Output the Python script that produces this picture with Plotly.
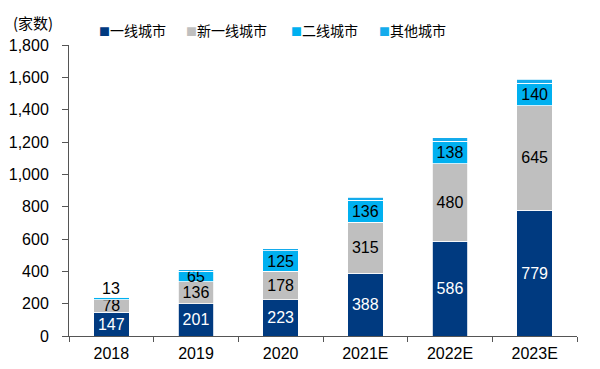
import plotly.graph_objects as go

years = ["2018", "2019", "2020", "2021E", "2022E", "2023E"]
tier1 = [147, 201, 223, 388, 586, 779]
new_tier1 = [78, 136, 178, 315, 480, 645]
tier2 = [13, 65, 125, 136, 138, 140]
others = [3, 8, 14, 18, 22, 24]

series_names = ["一线城市", "新一线城市", "二线城市", "其他城市"]
colors = ["#003A80", "#BFBFBF", "#00B0F0", "#14ABEC"]
text_colors = ["white", "black", "black", "black"]
legend_x_px = [89, 176, 281, 369]  # legend entry positions (figure px)

W, H = 592, 361
ML, MR, MT, MB = 61, 23, 37, 33
PW, PH = W - ML - MR, H - MT - MB

fig = go.Figure()
all_vals = [tier1, new_tier1, tier2, others]
for i, (name, vals) in enumerate(zip(series_names, all_vals)):
    if i < 2:
        txt = [str(v) for v in vals]
    elif i == 2:
        txt = ["" if v < 40 else str(v) for v in vals]
    else:
        txt = ["" for v in vals]
    fig.add_trace(go.Bar(
        x=years, y=vals, name=name,
        marker=dict(color=colors[i], line=dict(color="white", width=0.8)),
        text=txt, textposition="inside", insidetextanchor="middle",
        textangle=0, constraintext="none",
        textfont=dict(family="Liberation Sans, Arial", size=16, color=text_colors[i]),
        hoverinfo="skip", showlegend=False,
    ))

# small label above the bar where the segment is too thin
for idx, (a, b, c, d) in enumerate(zip(tier1, new_tier1, tier2, others)):
    if c < 40:
        fig.add_annotation(x=idx, y=a + b + c + d, text=str(c), showarrow=False,
                           yanchor="bottom", yshift=-2,
                           font=dict(family="Liberation Sans, Arial", size=16, color="black"))

# legend entries
for name, col, px in zip(series_names, colors, legend_x_px):
    fig.add_annotation(
        x=(px - ML) / PW, y=1 + (MT - 22) / PH, xref="paper", yref="paper",
        xanchor="left", yanchor="middle", showarrow=False,
        text=f"<span style='color:{col};font-size:11px'>■</span>{name}",
        font=dict(family="Noto Sans CJK SC", size=14, color="black"))

fig.add_annotation(x=0, y=1, xref="paper", yref="paper", xanchor="left", yanchor="top",
                   text="(家数)", showarrow=False, xshift=-58, yshift=35,
                   font=dict(family="Noto Sans CJK SC", size=15, color="black"))

fig.update_layout(
    width=W, height=H,
    margin=dict(l=ML, r=MR, t=MT, b=MB),
    barmode="stack", bargap=0.58,
    plot_bgcolor="white", paper_bgcolor="white",
    showlegend=False,
    font=dict(family="Liberation Sans, Arial", color="black"),
)
fig.update_yaxes(range=[0, 1800], dtick=200, tickformat=",", showgrid=False,
                 showline=True, linecolor="#555555", linewidth=1, automargin=False,
                 ticks="outside", ticklen=6, tickcolor="#555555", ticklabelstandoff=10,
                 tickfont=dict(size=16, color="black"), zeroline=False)
fig.update_xaxes(type="category", range=[-0.5, len(years) - 0.5], automargin=False,
                 showline=True, linecolor="#555555", linewidth=1,
                 ticks="outside", ticklen=5, tickcolor="#555555", tickson="boundaries",
                 ticklabelstandoff=3,
                 tickangle=0, tickfont=dict(size=16, color="black"), showgrid=False)

fig.write_html("out.html")
